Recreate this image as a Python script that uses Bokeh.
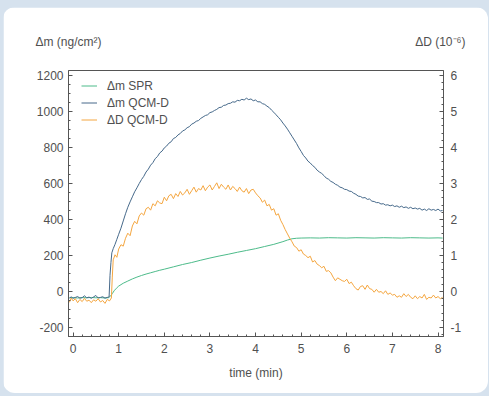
from bokeh.plotting import figure
from bokeh.models import Range1d, LinearAxis, FixedTicker, Legend, LegendItem
from bokeh.embed import file_html
from bokeh.resources import INLINE

# ---- data ----
t_spr = [-0.08, 0.00, 0.10, 0.20, 0.30, 0.40, 0.50, 0.60, 0.70, 0.78, 0.82, 0.86, 0.90, 0.95,
         1.00, 1.10, 1.20, 1.30, 1.40, 1.50, 1.60, 1.70, 1.80, 1.90, 2.00, 2.20, 2.40, 2.60,
         2.80, 3.00, 3.20, 3.40, 3.60, 3.80, 4.00, 4.20, 4.40, 4.60, 4.70, 4.80, 4.90, 5.00,
         5.20, 5.40, 5.60, 5.80, 6.00, 6.20, 6.40, 6.60, 6.80, 7.00, 7.20, 7.40, 7.60, 7.80,
         8.00, 8.10]
m_spr = [-35, -34, -36, -34, -35, -33, -35, -34, -36, -34, -26, -12, 4, 18,
         30, 46, 58, 70, 80, 89, 97, 104, 111, 118, 124, 137, 150, 161,
         174, 186, 197, 207, 218, 228, 238, 250, 262, 277, 286, 293, 296, 297,
         298, 297, 299, 298, 297, 299, 298, 297, 299, 298, 297, 299, 298, 297,
         298, 297]

t_qcm = [-0.08, -0.04, 0.00, 0.05, 0.10, 0.15, 0.20, 0.25, 0.30, 0.35, 0.40, 0.45, 0.50,
         0.55, 0.60, 0.65, 0.70, 0.75, 0.79, 0.81, 0.83, 0.85, 0.88, 0.92, 0.96, 1.00,
         1.05, 1.10, 1.15, 1.20, 1.25, 1.30, 1.35, 1.40, 1.45, 1.50, 1.55, 1.60, 1.65,
         1.70, 1.75, 1.80, 1.85, 1.90, 1.95, 2.00, 2.05, 2.10, 2.15, 2.20, 2.25, 2.30,
         2.35, 2.40, 2.45, 2.50, 2.55, 2.60, 2.65, 2.70, 2.75, 2.80, 2.85, 2.90, 2.95,
         3.00, 3.05, 3.10, 3.15, 3.20, 3.25, 3.30, 3.35, 3.40, 3.45, 3.50, 3.55, 3.60,
         3.65, 3.70, 3.75, 3.80, 3.85, 3.90, 3.95, 4.00, 4.05, 4.10, 4.15, 4.20, 4.25,
         4.30, 4.35, 4.40, 4.45, 4.50, 4.55, 4.60, 4.65, 4.70, 4.75, 4.80, 4.85, 4.90,
         4.95, 5.00, 5.05, 5.10, 5.15, 5.20, 5.25, 5.30, 5.35, 5.40, 5.45, 5.50, 5.55,
         5.60, 5.65, 5.70, 5.75, 5.80, 5.85, 5.90, 5.95, 6.00, 6.05, 6.10, 6.15, 6.20,
         6.25, 6.30, 6.35, 6.40, 6.45, 6.50, 6.55, 6.60, 6.65, 6.70, 6.75, 6.80, 6.85,
         6.90, 6.95, 7.00, 7.05, 7.10, 7.15, 7.20, 7.25, 7.30, 7.35, 7.40, 7.45, 7.50,
         7.55, 7.60, 7.65, 7.70, 7.75, 7.80, 7.85, 7.90, 7.95, 8.00, 8.05, 8.10]
m_qcm = [-36, -30, -38, -33, -28, -37, -34, -24, -35, -31, -38, -30, -22,
         -36, -33, -29, -37, -33, -30, 90, 160, 215, 238, 262, 290, 318,
         352, 392, 432, 468, 498, 526, 554, 576, 600, 622, 640, 664, 680,
         702, 716, 738, 750, 770, 780, 798, 808, 824, 832, 850, 856, 870,
         878, 892, 898, 910, 916, 930, 936, 946, 950, 962, 970, 978, 982,
         994, 998, 1006, 1012, 1022, 1024, 1034, 1036, 1044, 1046, 1054, 1052, 1062,
         1060, 1068, 1064, 1074, 1066, 1070, 1060, 1064, 1054, 1054, 1044, 1040, 1030,
         1022, 1008, 996, 982, 968, 954, 936, 920, 902, 882, 862, 842, 822,
         798, 778, 756, 742, 724, 714, 700, 690, 674, 664, 656, 644, 630,
         624, 612, 606, 596, 590, 580, 576, 568, 566, 558, 556, 546, 540,
         530, 528, 520, 522, 512, 514, 502, 500, 494, 494, 486, 488, 480,
         482, 476, 480, 472, 476, 468, 474, 466, 470, 462, 468, 460, 464,
         458, 462, 452, 458, 450, 460, 452, 456, 450, 458, 448, 450]

t_dd = [-0.08, -0.04, 0.00, 0.05, 0.10, 0.15, 0.20, 0.25, 0.30, 0.35, 0.40, 0.45, 0.50,
        0.55, 0.60, 0.65, 0.70, 0.75, 0.80, 0.84, 0.86, 0.88, 0.92, 0.96, 1.00, 1.05,
        1.10, 1.15, 1.20, 1.25, 1.30, 1.35, 1.40, 1.45, 1.50, 1.55, 1.60, 1.65, 1.70,
        1.75, 1.80, 1.85, 1.90, 1.95, 2.00, 2.05, 2.10, 2.15, 2.20, 2.25, 2.30, 2.35,
        2.40, 2.45, 2.50, 2.55, 2.60, 2.65, 2.70, 2.75, 2.80, 2.85, 2.90, 2.95, 3.00,
        3.05, 3.10, 3.15, 3.20, 3.25, 3.30, 3.35, 3.40, 3.45, 3.50, 3.55, 3.60, 3.65,
        3.70, 3.75, 3.80, 3.85, 3.90, 3.95, 4.00, 4.05, 4.10, 4.15, 4.20, 4.25, 4.30,
        4.35, 4.40, 4.45, 4.50, 4.55, 4.60, 4.65, 4.70, 4.75, 4.80, 4.85, 4.90, 4.95,
        5.00, 5.05, 5.10, 5.15, 5.20, 5.25, 5.30, 5.35, 5.40, 5.45, 5.50, 5.55, 5.60,
        5.65, 5.70, 5.75, 5.80, 5.85, 5.90, 5.95, 6.00, 6.05, 6.10, 6.15, 6.20, 6.25,
        6.30, 6.35, 6.40, 6.45, 6.50, 6.55, 6.60, 6.65, 6.70, 6.75, 6.80, 6.85, 6.90,
        6.95, 7.00, 7.05, 7.10, 7.15, 7.20, 7.25, 7.30, 7.35, 7.40, 7.45, 7.50, 7.55,
        7.60, 7.65, 7.70, 7.75, 7.80, 7.85, 7.90, 7.95, 8.00, 8.05, 8.10]
d_qcm = [-0.30, -0.18, -0.26, -0.20, -0.31, -0.22, -0.28, -0.19, -0.27, -0.24, -0.31, -0.23, -0.27,
         -0.20, -0.29, -0.25, -0.33, -0.22, -0.26, -0.18, 0.40, 0.88, 1.02, 0.95, 1.18, 1.30,
         1.26, 1.48, 1.62, 1.55, 1.82, 1.95, 1.88, 2.10, 2.18, 2.12, 2.30, 2.34, 2.26,
         2.44, 2.38, 2.52, 2.46, 2.44, 2.62, 2.52, 2.66, 2.70, 2.58, 2.72, 2.64, 2.78,
         2.68, 2.74, 2.84, 2.70, 2.80, 2.90, 2.76, 2.86, 2.82, 2.94, 2.80, 2.90, 2.96,
         2.82, 2.92, 3.02, 2.86, 2.98, 2.90, 2.84, 2.96, 2.82, 2.92, 2.86, 2.78, 2.90,
         2.80, 2.76, 2.86, 2.72, 2.82, 2.84, 2.74, 2.66, 2.60, 2.48, 2.54, 2.38, 2.42,
         2.26, 2.30, 2.12, 2.16, 1.98, 1.86, 1.72, 1.60, 1.48, 1.38, 1.26, 1.22, 1.12,
         1.16, 1.04, 1.00, 0.94, 0.98, 0.82, 0.86, 0.76, 0.72, 0.66, 0.70, 0.56, 0.58,
         0.52, 0.40, 0.30, 0.38, 0.34, 0.30, 0.28, 0.34, 0.22, 0.26, 0.16, 0.08, 0.04,
         0.14, 0.16, 0.06, 0.18, 0.08, 0.06, -0.02, 0.06, -0.02, 0.00, -0.06, 0.02, -0.08,
         -0.04, -0.10, -0.08, -0.16, -0.12, -0.16, -0.06, -0.14, -0.08, -0.16, -0.20, -0.12, -0.20,
         -0.14, -0.18, -0.08, -0.22, -0.16, -0.18, -0.10, -0.18, -0.14, -0.20, -0.16]

x_ticks = [0, 1, 2, 3, 4, 5, 6, 7, 8]
y_ticks = [-200, 0, 200, 400, 600, 800, 1000, 1200]
dd_ticks = [-1, 0, 1, 2, 3, 4, 5, 6]

labels = ["\u0394m SPR", "\u0394m QCM-D", "\u0394D QCM-D"]
left_title = "\u0394m (ng/cm\u00b2)"
right_title = "\u0394D (10\u207b\u2076)"
colors = ["#4dbb8a", "#46698a", "#f4a640"]

FONT = "Liberation Sans"
TXT = "#505050"
AX = "#555555"

p = figure(width=485, height=386, output_backend="svg", toolbar_location=None,
           x_range=Range1d(-0.1, 8.12), y_range=Range1d(-250, 1228),
           min_border_left=65, min_border_right=45, min_border_top=63, min_border_bottom=57)
p.extra_y_ranges = {"dd": Range1d(-1.25, 6.14)}
p.border_fill_color = "white"
p.background_fill_color = "white"
p.outline_line_color = AX
p.outline_line_width = 1
p.xgrid.grid_line_color = None
p.ygrid.grid_line_color = None
p.styles = {"border-radius": "12px", "overflow": "hidden"}

r1 = p.line(t_spr, m_spr, line_color=colors[0], line_width=1)
r2 = p.line(t_qcm, m_qcm, line_color=colors[1], line_width=1)
r3 = p.line(t_dd, d_qcm, line_color=colors[2], line_width=1, y_range_name="dd")

right = LinearAxis(y_range_name="dd")
p.add_layout(right, "right")

p.xaxis.ticker = FixedTicker(ticks=x_ticks, minor_ticks=[i / 5 for i in range(0, 41)])
p.yaxis[0].ticker = FixedTicker(ticks=y_ticks, minor_ticks=[-250 + 50 * i for i in range(0, 30)])
right.ticker = FixedTicker(ticks=dd_ticks, minor_ticks=[-1.2 + 0.2 * i for i in range(0, 37)])
p.yaxis[0].major_label_overrides = {v: str(v) for v in y_ticks}
right.major_label_overrides = {v: str(v) for v in dd_ticks}

for ax in [p.xaxis[0], p.yaxis[0], right]:
    ax.axis_line_color = AX
    ax.major_tick_line_color = AX
    ax.minor_tick_line_color = AX
    ax.major_tick_in = 4
    ax.major_tick_out = 0
    ax.minor_tick_in = 2
    ax.minor_tick_out = 0
    ax.major_label_text_font = FONT
    ax.major_label_text_font_size = "12px"
    ax.major_label_text_color = TXT

p.xaxis.major_label_standoff = 7
p.yaxis[0].major_label_standoff = 5
right.major_label_standoff = 7
p.xaxis.axis_label = "time (min)"
p.xaxis.axis_label_text_font = FONT
p.xaxis.axis_label_text_font_size = "12px"
p.xaxis.axis_label_text_font_style = "normal"
p.xaxis.axis_label_text_color = TXT
p.xaxis.axis_label_standoff = 10

# unit captions above both value axes (placed as labels of an untick'd top axis)
top = LinearAxis(ticker=FixedTicker(ticks=[-0.1, 8.05], minor_ticks=[]),
                 major_label_overrides={-0.1: left_title, 8.05: right_title},
                 axis_line_color=None, major_tick_line_color=None, minor_tick_line_color=None,
                 major_label_standoff=16, major_label_text_font=FONT,
                 major_label_text_font_size="12px", major_label_text_color=TXT)
p.add_layout(top, "above")

legend = Legend(items=[LegendItem(label=labels[0], renderers=[r1]),
                       LegendItem(label=labels[1], renderers=[r2]),
                       LegendItem(label=labels[2], renderers=[r3])],
                location=(13, 208), padding=0, margin=0, spacing=0,
                glyph_width=16, glyph_height=17, label_height=17, label_standoff=10,
                border_line_color=None, background_fill_alpha=0,
                label_text_font=FONT, label_text_font_size="12px", label_text_color=TXT)
p.add_layout(legend)

html = file_html(p, INLINE, title="chart")
html = html.replace("</head>", "<style>html,body{margin:0;padding:0;background:#d6e2ee;}"
                    "body{padding:7px 0 0 3px;}</style></head>", 1)
open("out.html", "w").write(html)
